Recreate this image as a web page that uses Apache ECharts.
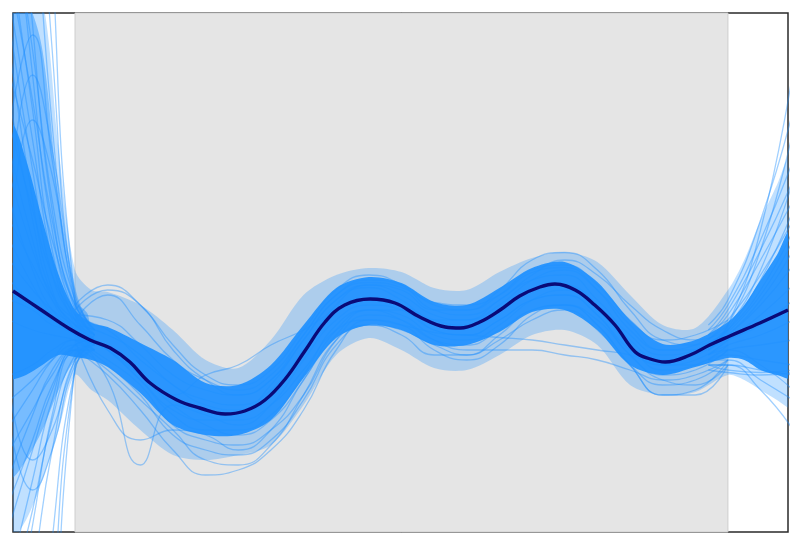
<!DOCTYPE html>
<html><head><meta charset="utf-8">
<script src="https://cdn.jsdelivr.net/npm/echarts@6/dist/echarts.min.js"></script>
<style>html,body{margin:0;padding:0;background:#fff}#c{width:800px;height:546px}</style>
</head><body><div id="c"></div>
<script>
// Mean curve
const meanX = [-0.095,-0.054,-0.008,0.023,0.054,0.084,0.115,0.156,0.191,0.230,0.260,0.291,0.322,0.352,0.383,0.413,0.452,0.490,0.528,0.567,0.590,0.620,0.651,0.681,0.712,0.735,0.766,0.796,0.827,0.858,0.881,0.904,0.942,0.972,1.003,1.049,1.092];
const meanY = [1.18,0.82,0.42,0.20,0.04,-0.24,-0.66,-1.00,-1.16,-1.28,-1.22,-1.00,-0.58,-0.02,0.56,0.90,1.02,0.94,0.66,0.46,0.44,0.56,0.80,1.08,1.26,1.32,1.20,0.90,0.50,-0.04,-0.18,-0.24,-0.10,0.10,0.28,0.54,0.80];

// Density bands of the sample curves
const bandX = [-0.14,-0.1,-0.075,-0.05,-0.025,0,0.025,0.05,0.1,0.15,0.2,0.25,0.3,0.35,0.4,0.45,0.5,0.55,0.6,0.65,0.7,0.75,0.8,0.85,0.9,0.95,1.0,1.025,1.05,1.075,1.1,1.14];
const coreUpper = [4.6,4.6,3.8,2.6,1.5,0.8,0.54,0.46,0.14,-0.2,-0.66,-0.7,-0.3,0.5,1.24,1.46,1.34,0.96,0.9,1.24,1.64,1.76,1.36,0.6,0.12,0.2,0.56,0.9,1.4,1.9,2.5,2.5];
const coreLower = [-0.6,-0.6,-0.5,-0.3,-0.1,-0.14,-0.2,-0.34,-0.86,-1.5,-1.7,-1.7,-1.4,-0.56,0.24,0.5,0.4,0.1,0.1,0.36,0.76,0.8,0.4,-0.3,-0.5,-0.34,-0.16,-0.2,-0.4,-0.5,-0.6,-0.6];
const envUpper = [7.0,7.0,7.0,7.0,4.0,1.6,1.2,1.16,0.9,0.4,-0.2,-0.36,0.2,1.1,1.5,1.64,1.56,1.24,1.2,1.56,1.84,1.96,1.76,1.1,0.5,0.44,1.2,1.8,2.6,3.3,4.0,4.0];
const envLower = [-3.8,-3.8,-3.4,-2.6,-1.6,-0.5,-0.8,-1.0,-1.6,-2.1,-2.2,-2.1,-1.9,-1.1,-0.1,0.24,0.0,-0.36,-0.4,-0.1,0.3,0.4,0.1,-0.7,-0.9,-0.84,-0.5,-0.6,-0.8,-1.0,-1.2,-1.2];
// Dense part of the left fan
const leftDenseX = [-0.14,-0.1,-0.075,-0.05,-0.025,0,0.02];
const leftDenseUpper = [7.0,7.0,7.0,6.0,3.0,1.0,0.7];
const leftDenseLower = [-2.6,-2.6,-2.2,-1.6,-0.8,-0.2,-0.1];

// Individual sample curves, shaded range
const midX = [0,0.05,0.1,0.15,0.2,0.25,0.3,0.35,0.4,0.45,0.5,0.55,0.6,0.65,0.7,0.75,0.8,0.85,0.9,0.95,1.0];
const midCurves = [
  [0.6,1.1,0.5,-0.2,-0.6,-0.8,-0.5,0.3,1.1,1.4,1.3,0.9,0.8,1.1,1.6,1.7,1.3,0.6,0.2,0.3,0.6],
  [0.2,-0.3,-0.9,-1.7,-2.0,-2.1,-1.8,-1.0,0.1,0.5,0.4,0.1,-0.1,0.2,0.6,0.8,0.4,-0.3,-0.7,-0.6,-0.2],
  [0.3,-0.6,-2.3,-1.1,-1.3,-1.5,-1.1,-0.2,0.6,0.9,0.8,0.4,0.3,0.6,1.0,1.1,0.7,0.0,-0.3,-0.2,0.2],
  [0.9,1.3,0.9,0.1,-0.5,-0.7,-0.4,0.4,1.2,1.5,1.3,0.8,0.7,1.0,1.5,1.8,1.5,0.9,0.4,0.2,0.4],
  [0.0,-0.5,-1.2,-2.0,-2.5,-2.4,-2.0,-1.2,0.0,0.6,0.5,0.0,-0.2,0.1,0.7,0.9,0.5,-0.3,-0.9,-0.9,-0.3],
  [0.4,0.0,-0.5,-0.9,-0.5,-0.3,0.1,0.4,0.8,1.0,0.9,0.6,0.5,0.8,1.2,1.3,0.9,0.2,-0.2,-0.1,0.3],
  [0.5,0.0,-0.6,-1.2,-1.4,-1.4,-1.1,-0.4,0.4,0.6,0.5,0.35,0.3,0.25,0.2,0.1,0.0,-0.1,-0.3,-0.3,0.0],
  [0.2,-0.2,-0.7,-1.5,-1.8,-1.9,-1.6,-0.9,0.2,0.7,0.6,0.2,0.0,0.0,0.0,-0.1,-0.2,-0.4,-0.6,-0.5,-0.2],
  [0.5,0.3,-0.1,-0.7,-1.0,-1.1,-0.8,0.0,0.9,1.3,1.2,0.8,0.8,1.2,1.8,1.95,1.6,0.8,0.2,0.1,0.4],
  [0.4,0.0,-0.6,-1.3,-1.6,-1.6,-1.3,-0.5,0.5,0.8,0.6,0.2,0.1,0.4,0.8,0.9,0.5,-0.3,-0.9,-0.8,-0.2],
  [0.8,1.2,0.9,0.0,-0.6,-0.9,-0.6,0.2,1.0,1.3,1.1,0.7,0.6,0.9,1.4,1.6,1.2,0.5,0.0,0.0,0.3],
  [0.2,-1.2,-1.8,-1.6,-1.7,-2.0,-1.6,-0.6,0.3,0.8,0.7,0.3,0.2,0.5,1.0,1.2,0.8,0.1,-0.4,-0.3,0.1],
  [0.7,0.6,0.1,-0.5,-0.8,-0.9,-0.6,0.3,1.1,1.35,1.25,0.95,0.9,1.1,1.55,1.65,1.2,0.4,0.0,0.1,0.5],
  [0.1,-0.4,-1.0,-1.6,-2.2,-2.3,-1.9,-0.9,0.2,0.5,0.3,-0.1,-0.1,0.3,0.8,0.9,0.6,-0.1,-0.6,-0.7,-0.3],
  [0.6,0.4,-0.2,-0.7,-1.1,-1.2,-0.7,0.2,1.0,1.25,1.0,0.6,0.6,1.0,1.4,1.5,1.0,0.3,-0.1,0.0,0.4],
  [0.3,0.0,-0.5,-1.1,-1.5,-1.7,-1.4,-0.6,0.4,0.8,0.8,0.4,0.3,0.6,1.0,1.1,0.7,-0.1,-0.5,-0.4,0.0]
];

// Left extrapolation fan
const leftFanX = [-0.1,-0.065,-0.035,0,0.03];
const leftFan = [
  [12,6.5,2.8,0.8,0.3],[10,5.5,2.4,0.7,0.2],[9,6.0,3.0,1.0,0.4],[8,4.8,2.0,0.6,0.2],
  [7.5,5.0,2.6,0.9,0.5],[7,4.2,1.8,0.5,0.1],[6.5,3.6,1.5,0.6,0.3],[6,3.0,1.2,0.4,0.1],
  [5.5,3.8,2.2,0.9,0.4],[5,2.6,1.1,0.5,0.2],[4.5,2.8,1.5,0.7,0.3],[4,2.2,1.0,0.4,0.0],
  [3.5,2.0,1.1,0.6,0.4],[3,1.6,0.8,0.4,0.1],[2.6,1.7,1.0,0.5,0.2],[2.2,1.3,0.7,0.3,0.0],
  [1.8,1.2,0.8,0.5,0.3],[1.4,0.9,0.6,0.3,0.1],[1.0,0.8,0.5,0.4,0.2],[0.6,0.4,0.3,0.2,0.0],
  [3.0,5.5,4.0,1.2,0.3],[2.0,4.6,3.5,1.0,0.2],[4.5,6.3,3.8,1.1,0.4],
  [30,18,8,1.0,0.3],[20,12,6,0.9,0.3],[16,10,4.5,1.1,0.4],
  [-0.5,-0.3,0.0,0.2,0.1],[-1.0,-0.6,-0.2,0.1,0.0],[-1.5,-0.8,-0.2,0.2,0.1],[-2.0,-1.2,-0.5,0.0,0.0],
  [-2.5,-1.3,-0.4,0.1,0.2],[-3.0,-1.8,-0.7,0.0,0.1],[-3.5,-2.0,-0.8,0.1,0.2],[-4.5,-2.6,-1.0,0.0,0.0],
  [-5.0,-3.2,-1.4,-0.1,0.1],[-6.0,-3.5,-1.3,0.1,0.2],[-1.5,-2.8,-2.0,-0.3,0.0],[-0.8,-2.2,-1.6,-0.2,0.1],
  [-7,-4.5,-2.0,-0.2,0.2],[-12,-8,-3.8,-0.4,0.3],[-30,-18,-8,-0.3,0.3],[-20,-12,-5.5,-0.4,0.2]
];

// Right extrapolation fan
const rightFanX = [0.97,1.0,1.05,1.1];
const rightFan = [
  [0.1,0.5,2.0,4.4],[0.0,0.5,2.4,5.6],[0.1,0.45,1.6,3.4],[0.0,0.4,1.4,2.8],[0.1,0.4,1.2,2.4],
  [0.0,0.3,1.0,2.0],[0.0,0.3,0.9,1.7],[-0.1,0.2,0.7,1.3],[0.0,0.2,0.5,1.0],[-0.1,0.1,0.3,0.6],
  [-0.2,0.0,0.1,0.2],[-0.2,-0.1,-0.2,-0.3],[-0.3,-0.3,-0.4,-0.5],[-0.2,-0.2,-0.6,-1.0],[-0.3,-0.3,-0.8,-1.6],
  [0.3,0.7,1.8,3.0],[0.4,0.9,2.2,3.8],[-0.1,0.0,-0.3,-0.8],[0.2,0.6,1.5,2.6],[0.0,0.35,1.1,2.2],
  [-0.4,-0.45,-0.5,-0.45],[0.5,1.0,2.6,4.8],[0.3,0.8,2.0,3.4],[-0.3,-0.4,-0.45,-0.4]
];

const shadeRange = [0, 1];

const pair = (xs, ys) => xs.map((x, i) => [x, ys[i]]);
const BLUE = '#1e90ff';
const series = [];

series.push({
  type: 'line', data: [], z: 1, silent: true,
  markArea: {
    silent: true,
    itemStyle: { color: '#e5e5e5', borderColor: '#cfcfcf', borderWidth: 1 },
    data: [[{ xAxis: shadeRange[0] }, { xAxis: shadeRange[1] }]]
  }
});

function band(xs, lo, hi, opacity, z) {
  series.push({
    type: 'custom', coordinateSystem: 'cartesian2d', clip: true, z: z, silent: true,
    data: [[xs[0], lo[0]]],
    renderItem: function (params, api) {
      const up = xs.map((x, i) => api.coord([x, hi[i]]));
      const dn = xs.map((x, i) => api.coord([x, lo[i]])).reverse();
      return {
        type: 'polygon',
        shape: { points: up.concat(dn), smooth: 0.3 },
        style: { fill: BLUE, opacity: opacity }
      };
    }
  });
}
band(bandX, envLower, envUpper, 0.28, 2);
band(leftDenseX, leftDenseLower, leftDenseUpper, 0.45, 2);

function thin(xs, ys, z) {
  series.push({
    type: 'line', z: z, smooth: 0.5, symbol: 'none', silent: true,
    lineStyle: { color: BLUE, width: 1.3, opacity: 0.42 },
    data: pair(xs, ys)
  });
}
leftFan.forEach(c => thin(leftFanX, c, 3));
rightFan.forEach(c => thin(rightFanX, c, 3));
midCurves.forEach(c => thin(midX, c, 3));

band(bandX, coreLower, coreUpper, 0.92, 4);

series.push({
  type: 'line', z: 6, smooth: 0.4, symbol: 'none', silent: true,
  lineStyle: { color: '#0a0a78', width: 3.4 },
  data: pair(meanX, meanY)
});

const chart = echarts.init(document.getElementById('c'));
chart.setOption({
  animation: false,
  backgroundColor: '#ffffff',
  grid: { left: 13, top: 13, right: 12, bottom: 14, show: true, borderColor: '#2a2a2a', borderWidth: 1.5, backgroundColor: '#ffffff' },
  xAxis: { type: 'value', min: -0.095, max: 1.092, show: false },
  yAxis: { type: 'value', min: -3.64, max: 6.74, show: false },
  series: series
});
</script>
</body></html>
